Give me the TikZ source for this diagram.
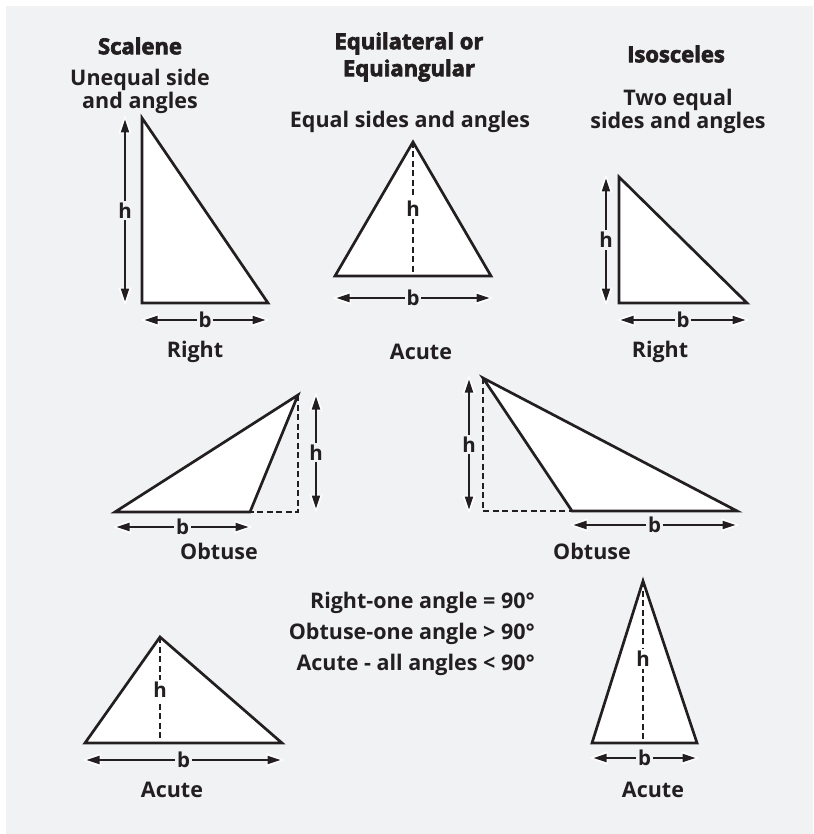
\documentclass[tikz,border=0pt]{standalone}
\usepackage{fontspec}
\setmainfont{Open Sans}
\newfontfamily\heavyfont[BoldFeatures={FakeBold=3}]{Open Sans}
\usetikzlibrary{arrows.meta}
\definecolor{bg}{HTML}{F1F2F4}
\definecolor{ink}{HTML}{231F20}
\tikzset{
  tri/.style={draw=ink, fill=white, line width=2.7pt},
  dimline/.style={draw=ink, line width=1.8pt,
    {Triangle[width=8pt,length=13pt,sep=1.5pt]}-{Triangle[width=8pt,length=13pt,sep=1.5pt]},
    preaction={draw=white, line width=1.8pt,
      {Triangle[width=13pt,length=18pt]}-{Triangle[width=13pt,length=18pt]},
      shorten <=-2.5pt, shorten >=-2.5pt}},
  hgt/.style={draw=ink, line width=2.5pt, dash pattern=on 6pt off 3.5pt},
  dimlab/.style={fill=bg, inner sep=2pt, text=ink, font=\bfseries\fontsize{20.5}{20.5}\selectfont},
  inlab/.style={dimlab, fill=white},
  lab/.style={text=ink, align=center, inner sep=0pt, font=\bfseries\fontsize{21.5}{23}\selectfont},
  ttl/.style={text=ink, align=center, inner sep=0pt, font=\heavyfont\bfseries\fontsize{22}{27}\selectfont},
  note/.style={text=ink, anchor=east, inner sep=0pt, font=\bfseries\fontsize{21.5}{21.5}\selectfont}
}
\begin{document}
\begin{tikzpicture}[x=1pt,y=-1pt]
\useasboundingbox (0,0) rectangle (813,834);
\fill[bg] (6,6) rectangle (813,834);

% ---------- Scalene right ----------
\node[ttl] (tScalene) at (140,46) {Scalene};
\node[lab] (dScalene) at (140,91) {Unequal side\\and angles};
\coordinate (sa) at (142,118);
\coordinate (sb) at (142,303);
\coordinate (sc) at (268,303);
\draw[tri] (sa) -- (sb) -- (sc) -- cycle;
\coordinate (sh1) at (125,118);
\coordinate (sh2) at (125,303);
\draw[dimline] (sh1) -- node[dimlab] (shl) {h} (sh2);
\coordinate (sb1) at (143,320);
\coordinate (sb2) at (267,320);
\draw[dimline] (sb1) -- node[dimlab] (sbl) {b} (sb2);
\node[lab] (lRight1) at (195,352) {Right};

% ---------- Equilateral ----------
\node[ttl] (tEqui) at (409,57) {Equilateral or\\Equiangular};
\node[lab] (dEqui) at (410,122) {Equal sides and angles};
\coordinate (ea) at (413,142);
\coordinate (eb) at (335,276);
\coordinate (ec) at (491,276);
\coordinate (ef) at (413,276);
\draw[tri] (ea) -- (eb) -- (ec) -- cycle;
\draw[hgt] (ea) -- node[inlab] (ehl) {h} (ef);
\coordinate (eb1) at (335,298);
\coordinate (eb2) at (491,298);
\draw[dimline] (eb1) -- node[dimlab] (ebl) {b} (eb2);
\node[lab] (lAcute1) at (421,352) {Acute};

% ---------- Isosceles right ----------
\node[ttl] (tIso) at (676,54) {Isosceles};
\node[lab] (dIso) at (678,111) {Two equal\\sides and angles};
\coordinate (ia) at (619,177);
\coordinate (ib) at (619,303);
\coordinate (ic) at (747,303);
\draw[tri] (ia) -- (ib) -- (ic) -- cycle;
\coordinate (ih1) at (606,177);
\coordinate (ih2) at (606,303);
\draw[dimline] (ih1) -- node[dimlab] (ihl) {h} (ih2);
\coordinate (ib1) at (619,320);
\coordinate (ib2) at (747,320);
\draw[dimline] (ib1) -- node[dimlab] (ibl) {b} (ib2);
\node[lab] (lRight2) at (660,352) {Right};

% ---------- Obtuse left ----------
\coordinate (oa) at (115,512);
\coordinate (ob) at (250,512);
\coordinate (oc) at (298,395);
\coordinate (of) at (298,512);
\draw[hgt] (oc) -- (of) -- (ob);
\draw[tri] (oa) -- (ob) -- (oc) -- cycle;
\coordinate (oh1) at (316,395);
\coordinate (oh2) at (316,510);
\draw[dimline] (oh1) -- node[dimlab] (ohl) {h} (oh2);
\coordinate (ob1) at (115,527);
\coordinate (ob2) at (250,527);
\draw[dimline] (ob1) -- node[dimlab] (obl) {b} (ob2);
\node[lab] (lObtuse1) at (219,551) {Obtuse};

% ---------- Obtuse right ----------
\coordinate (pa) at (483,378);
\coordinate (pb) at (572,511);
\coordinate (pc) at (737,511);
\coordinate (pf) at (483,511);
\draw[hgt] (pa) -- (pf) -- (pb);
\draw[tri] (pa) -- (pb) -- (pc) -- cycle;
\coordinate (ph1) at (469,378);
\coordinate (ph2) at (469,511);
\draw[dimline] (ph1) -- node[dimlab] (phl) {h} (ph2);
\coordinate (pb1) at (572,525);
\coordinate (pb2) at (737,525);
\draw[dimline] (pb1) -- node[dimlab] (pbl) {b} (pb2);
\node[lab] (lObtuse2) at (592,551) {Obtuse};

% ---------- Notes ----------
\node[note] (n1) at (535,603) {Right-one angle = 90°};
\node[note] (n2) at (535,634) {Obtuse-one angle > 90°};
\node[note] (n3) at (535,665) {Acute - all angles < 90°};

% ---------- Acute bottom left ----------
\coordinate (qa) at (160,637);
\coordinate (qb) at (85,743);
\coordinate (qc) at (282,743);
\coordinate (qf) at (160,743);
\draw[tri] (qa) -- (qb) -- (qc) -- cycle;
\draw[hgt] (qa) -- node[inlab] (qhl) {h} (qf);
\coordinate (qb1) at (85,760);
\coordinate (qb2) at (282,760);
\draw[dimline] (qb1) -- node[dimlab] (qbl) {b} (qb2);
\node[lab] (lAcute2) at (172,790) {Acute};

% ---------- Acute bottom right ----------
\coordinate (ra) at (643,581);
\coordinate (rb) at (592,743);
\coordinate (rc) at (697,743);
\coordinate (rf) at (643,743);
\draw[tri] (ra) -- (rb) -- (rc) -- cycle;
\draw[hgt] (ra) -- node[inlab,pos=0.48] (rhl) {h} (rf);
\coordinate (rb1) at (592,758);
\coordinate (rb2) at (697,758);
\draw[dimline] (rb1) -- node[dimlab] (rbl) {b} (rb2);
\node[lab] (lAcute3) at (653,790) {Acute};
\end{tikzpicture}
\end{document}
